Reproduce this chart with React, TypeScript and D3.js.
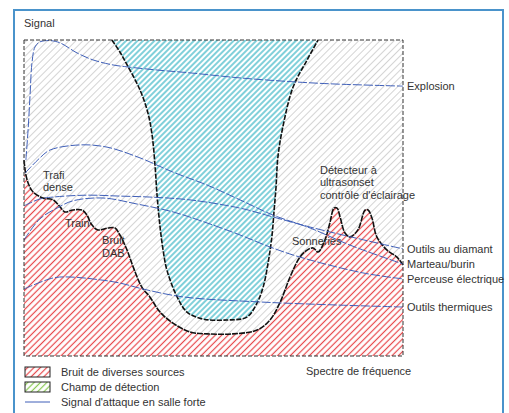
import React, { useRef, useEffect } from 'react';
import * as d3 from 'd3';

// frequency (0-100) / signal level (0-100)
const NOISE = [
  [0, 62], [0.5, 57.3], [1.3, 54.1], [2.4, 51.9], [5, 50], [7.7, 49.4], [9.5, 47.2], [10.8, 45.6],
  [12.9, 46.2], [15.3, 46.2], [16.6, 44.6], [17.9, 41.5], [19.5, 39.9], [22.2, 40.5], [24, 40.5],
  [25.3, 38.3], [27.2, 33.5], [28.8, 28.2], [31.1, 21.8], [33.2, 18.7], [35.9, 13.9], [39.3, 10.4],
  [43.8, 7.6], [48.3, 7], [55.1, 7], [61.5, 8.2], [64.9, 11.4], [67.5, 16.8], [70.2, 25],
  [72.8, 31.3], [74.7, 33.5], [76.3, 34.2], [77.6, 32.9], [79.4, 36.7], [80.7, 42.1], [81.8, 46.8],
  [82.6, 46.8], [83.4, 44], [84.7, 38.9], [86, 37.7], [88.1, 39.9], [90, 46.2], [90.8, 46.2],
  [91.8, 43.7], [93.1, 37.7], [95.8, 33.5], [98.4, 31.3], [100, 28.8],
];

const DETECTION = [
  [23.2, 100], [25.3, 96.2], [27.2, 92.1], [30.6, 84.2], [32.7, 76.9], [33.8, 69.9], [34.6, 59.8],
  [35.1, 50.9], [35.9, 40.8], [36.7, 33.5], [37.7, 27.2], [40.4, 18.7], [43, 13.9], [47.2, 11.7],
  [53.6, 11.4], [58.8, 12.3], [61.5, 16.8], [63.1, 21.8], [64.4, 29.4], [65.4, 37.7], [66, 46.2],
  [66.5, 53.5], [67, 63], [68.3, 72.5], [71, 85.1], [74.7, 93.7], [77.6, 100],
];

const EXPLOSION = [
  [0.5, 62], [1.1, 72], [1.6, 82.6], [2.1, 92.7], [2.9, 97.8], [4.2, 99.4], [6.9, 99.8], [9.5, 99.1],
  [14, 95.9], [18.2, 93.7], [23.5, 92.1], [27.2, 91.5], [35.1, 90.5], [43.8, 89.6], [57, 88],
  [72, 86.7], [81.5, 86.1], [100, 85.4],
];
const DIAMANT = [
  [0, 47.5], [4.2, 49.7], [7.7, 50.3], [16.6, 50.9], [25.3, 50.6], [33.2, 50.3], [43.8, 49.4],
  [57, 46.8], [65.7, 44], [75.5, 40.8], [88.7, 37], [100, 33.9],
];
const MARTEAU = [
  [0.3, 57.9], [4.2, 62.7], [6.9, 65.2], [14.8, 66.8], [21.9, 66.1], [30.6, 62.7], [39.3, 58.2],
  [48.3, 54.1], [57, 49.4], [65.7, 44.6], [75.5, 40.5], [86, 35.1], [100, 29.1],
];
const PERCEUSE = [
  [0, 36.7], [4.2, 43.4], [8.7, 46.8], [12.9, 49.1], [20.8, 50], [29.8, 48.1], [39.3, 45.6],
  [48.3, 42.1], [57, 38.3], [64.9, 34.5], [72.8, 31.3], [89.4, 26.3], [100, 24.4],
];
const THERMIQUES = [
  [0, 21.2], [7.7, 24.7], [12.1, 25], [20.1, 24.1], [25.3, 23.1], [31.4, 21.2], [42, 18.7],
  [62.3, 17.1], [83.4, 16.1], [100, 15.5],
];

const SIGNALS = [EXPLOSION, DIAMANT, MARTEAU, PERCEUSE, THERMIQUES];
const SIGNAL_LABELS = ['Explosion', 'Outils au diamant', 'Marteau/burin', 'Perceuse électrique', 'Outils thermiques'];

const NOTES = [
  { x: 5, y: 57.3, lines: ['Trafi', 'dense'] },
  { x: 10.8, y: 42.1, lines: ['Train'] },
  { x: 20.6, y: 36.7, lines: ['Bruit', 'DAB'] },
  { x: 78.1, y: 58.9, lines: ['Détecteur à', 'ultrasonset', "contrôle d'éclairage"] },
  { x: 70.7, y: 36.4, lines: ['Sonneries'] },
];

const LEGEND = ['Bruit de diverses sources', 'Champ de détection', "Signal d'attaque en salle forte"];

function App() {
  const ref = useRef<SVGSVGElement>(null);

  useEffect(() => {
    const svg = d3.select(ref.current);
    svg.selectAll('*').remove();

    const left = 24, right = 403, top = 40, bottom = 356;
    const x = d3.scaleLinear().domain([0, 100]).range([left, right]);
    const y = d3.scaleLinear().domain([0, 100]).range([bottom, top]);
    const font = 'Liberation Sans, Arial, sans-serif';
    const textColor = '#333';

    const defs = svg.append('defs');
    const hatch = (id: string, color: string, size: number, sw: number) => {
      const p = defs.append('pattern')
        .attr('id', id)
        .attr('patternUnits', 'userSpaceOnUse')
        .attr('width', size)
        .attr('height', size)
        .attr('patternTransform', 'rotate(45)');
      p.append('rect').attr('width', size).attr('height', size).attr('fill', '#fff');
      p.append('line')
        .attr('x1', size / 2).attr('y1', 0).attr('x2', size / 2).attr('y2', size)
        .attr('stroke', color).attr('stroke-width', sw);
    };
    hatch('h-gray', '#d4d4d4', 5, 1);
    hatch('h-red', '#e8474a', 4.5, 1.2);
    hatch('h-cyan', '#3db7c6', 4, 1.3);
    hatch('h-green', '#86c84f', 4.5, 1.2);

    // outer frame
    svg.append('rect')
      .attr('x', 14).attr('y', 10).attr('width', 489).attr('height', 430)
      .attr('fill', '#fff').attr('stroke', '#4a93cb').attr('stroke-width', 2);

    // plot background
    svg.append('rect')
      .attr('x', left).attr('y', top).attr('width', right - left).attr('height', bottom - top)
      .attr('fill', 'url(#h-gray)');

    const line = d3.line<number[]>().x(d => x(d[0])).y(d => y(d[1])).curve(d3.curveCatmullRom.alpha(0.5));

    // detection field
    const detFill = [...DETECTION];
    svg.append('path')
      .attr('d', line(detFill) + 'Z')
      .attr('fill', 'url(#h-cyan)');

    // noise
    const area = d3.area<number[]>().x(d => x(d[0])).y0(y(0)).y1(d => y(d[1])).curve(d3.curveCatmullRom.alpha(0.5));
    svg.append('path').attr('d', area(NOISE)).attr('fill', 'url(#h-red)');

    svg.append('path')
      .attr('d', line(DETECTION))
      .attr('fill', 'none').attr('stroke', '#111').attr('stroke-width', 1.6)
      .attr('stroke-dasharray', '5,1.5');
    svg.append('path')
      .attr('d', line(NOISE))
      .attr('fill', 'none').attr('stroke', '#111').attr('stroke-width', 1.6)
      .attr('stroke-dasharray', '6,1');

    // attack signals
    SIGNALS.forEach(s => {
      svg.append('path')
        .attr('d', line(s))
        .attr('fill', 'none').attr('stroke', '#3f5fb8').attr('stroke-width', 1)
        .attr('stroke-dasharray', '9,2');
    });

    // plot border
    svg.append('rect')
      .attr('x', left).attr('y', top).attr('width', right - left).attr('height', bottom - top)
      .attr('fill', 'none').attr('stroke', '#333').attr('stroke-width', 1)
      .attr('stroke-dasharray', '4,2');

    // signal labels on the right
    SIGNALS.forEach((s, i) => {
      svg.append('text')
        .attr('x', right + 4)
        .attr('y', y(s[s.length - 1][1]) + 4)
        .attr('fill', textColor).style('font-family', font).style('font-size', '11px')
        .text(SIGNAL_LABELS[i]);
    });

    // annotations
    NOTES.forEach(n => {
      const t = svg.append('text')
        .attr('x', x(n.x)).attr('y', y(n.y) + 4)
        .attr('fill', textColor).style('font-family', font).style('font-size', '11px');
      n.lines.forEach((l, i) => {
        t.append('tspan').attr('x', x(n.x)).attr('dy', i === 0 ? 0 : 12.5).text(l);
      });
    });

    svg.append('text').attr('x', 24).attr('y', 27)
      .attr('fill', textColor).style('font-family', font).style('font-size', '11px').text('Signal');
    svg.append('text').attr('x', 306).attr('y', 375)
      .attr('fill', textColor).style('font-family', font).style('font-size', '11px').text('Spectre de fréquence');

    // legend
    const lg = svg.append('g').attr('transform', 'translate(25, 367)');
    LEGEND.forEach((label, i) => {
      const row = lg.append('g').attr('transform', `translate(0, ${i * 15})`);
      if (i < 2) {
        row.append('rect')
          .attr('width', 25).attr('height', 10)
          .attr('fill', i === 0 ? 'url(#h-red)' : 'url(#h-green)')
          .attr('stroke', '#222').attr('stroke-width', 1);
      } else {
        row.append('line')
          .attr('x1', 0).attr('x2', 25).attr('y1', 5).attr('y2', 5)
          .attr('stroke', '#3f5fb8').attr('stroke-width', 1);
      }
      row.append('text')
        .attr('x', 36).attr('y', 9)
        .attr('fill', textColor).style('font-family', font).style('font-size', '11px')
        .text(label);
    });
  }, []);

  return <svg ref={ref} width={509} height={413} style={{ position: 'absolute', left: 0, top: 0 }} />;
}

export default App;
